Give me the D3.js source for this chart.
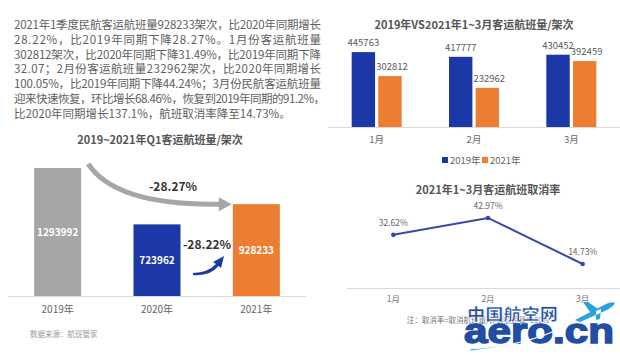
<!DOCTYPE html>
<html><head><meta charset="utf-8">
<script src="https://cdn.jsdelivr.net/npm/d3@7"></script>
<style>
html,body{margin:0;padding:0;background:#fff;}
svg{display:block;font-family:"Noto Sans CJK SC","Noto Sans",sans-serif;}
</style></head>
<body>
<svg id="c" width="620" height="355"></svg>
<script>
// ---------- data ----------
const paragraph = [
  "2021年1季度民航客运航班量928233架次，比2020年同期增长",
  "28.22%，比2019年同期下降28.27%。1月份客运航班量",
  "302812架次，比2020年同期下降31.49%，比2019年同期下降",
  "32.07；2月份客运航班量232962架次，比2020年同期增长",
  "100.05%，比2019年同期下降44.24%；3月份民航客运航班量",
  "迎来快速恢复，环比增长68.46%，恢复到2019年同期的91.2%，",
  "比2020年同期增长137.1%，航班取消率降至14.73%。"
];
const q1Years = ["2019年", "2020年", "2021年"];
const q1Values = [1293992, 723962, 928233];
const q1Change1 = "-28.27%";
const q1Change2 = "-28.22%";
const months = ["1月", "2月", "3月"];
const seriesNames = ["2019年", "2021年"];
const flights2019 = [445763, 417777, 430452];
const flights2021 = [302812, 232962, 392459];
const cancelRate = [32.62, 42.97, 14.73];

const svg = d3.select("#c");
const BLUE = "#1c37a6", ORANGE = "#ed7d31", GRAY = "#a6a6a6";

// ---------- paragraph ----------
const para = svg.append("g");
paragraph.forEach((t, i) => {
  const tx = para.append("text").attr("x", 14).attr("y", 29 + i * 14.8)
    .attr("font-size", 11.5).attr("fill", "#606060").text(t);
  if (i < 5) tx.attr("textLength", 307).attr("lengthAdjust", "spacing");
  if (i === 5) tx.attr("textLength", 311).attr("lengthAdjust", "spacing");
});

// ---------- left chart ----------
svg.append("text").attr("x", 160).attr("y", 144).attr("text-anchor", "middle")
  .attr("font-size", 11).attr("font-weight", "bold").attr("fill", "#555")
  .text("2019~2021年Q1客运航班量/架次");

const xL = d3.scalePoint().domain(q1Years).range([8, 306]).padding(0.5);
const yL = d3.scaleLinear().domain([0, 1400000]).range([296, 157.5]);
const q1Colors = [GRAY, BLUE, ORANGE];
const bwL = 47;
const gL = svg.append("g");
gL.selectAll("rect").data(q1Years).join("rect")
  .attr("x", d => xL(d) - bwL / 2).attr("width", bwL)
  .attr("y", (d, i) => yL(q1Values[i]))
  .attr("height", (d, i) => yL(0) - yL(q1Values[i]))
  .attr("fill", (d, i) => q1Colors[i]);
gL.selectAll("text.v").data(q1Years).join("text").attr("class", "v")
  .attr("x", d => xL(d)).attr("y", (d, i) => (yL(q1Values[i]) + yL(0)) / 2 + 4)
  .attr("text-anchor", "middle").attr("font-size", 10).attr("font-weight", "bold")
  .attr("fill", "#fff").text((d, i) => q1Values[i]);
svg.append("line").attr("x1", 8).attr("x2", 306).attr("y1", 296.5).attr("y2", 296.5)
  .attr("stroke", "#d9d9d9").attr("stroke-width", 1);
gL.selectAll("text.c").data(q1Years).join("text").attr("class", "c")
  .attr("x", d => xL(d)).attr("y", 313).attr("text-anchor", "middle")
  .attr("font-size", 10).attr("fill", "#666").text(d => d);

// gray curved arrow 2019 -> 2021
const x19 = xL(q1Years[0]) + bwL / 2, x21 = xL(q1Years[2]) - bwL / 2;
const yTop19 = yL(q1Values[0]), yTop21 = yL(q1Values[2]);
svg.append("path")
  .attr("d", `M${x19 + 7},${yTop19 - 4} Q${x19 + 35},${yTop21 + 2} ${x21 - 12},${yTop21}`)
  .attr("fill", "none").attr("stroke", GRAY).attr("stroke-width", 5);
svg.append("path")
  .attr("d", `M${x21 - 14},${yTop21 - 7} L${x21 - 1},${yTop21} L${x21 - 14},${yTop21 + 7} Z`)
  .attr("fill", GRAY);
svg.append("text").attr("x", 173).attr("y", 191).attr("text-anchor", "middle")
  .attr("font-size", 12).attr("font-weight", "bold").attr("fill", "#333").text(q1Change1);

// blue arrow 2020 -> 2021
svg.append("path")
  .attr("d", "M193,273 Q208,272.5 216,264 L213,262 L224,256 L221,268 L218.5,266 Q210,276.5 193,275 Z")
  .attr("fill", BLUE);
svg.append("text").attr("x", 207).attr("y", 249).attr("text-anchor", "middle")
  .attr("font-size", 12).attr("font-weight", "bold").attr("fill", "#333").text(q1Change2);

svg.append("text").attr("x", 30).attr("y", 337).attr("font-size", 7.5)
  .attr("fill", "#999").text("数据来源：航班管家");

// ---------- top right chart ----------
svg.append("text").attr("x", 474).attr("y", 29).attr("text-anchor", "middle")
  .attr("font-size", 11).attr("font-weight", "bold").attr("fill", "#555")
  .text("2019年VS2021年1~3月客运航班量/架次");

const xR = d3.scalePoint().domain(months).range([328, 620]).padding(0.5);
const xS = d3.scaleBand().domain(seriesNames).range([-25, 25]).paddingInner(0.12);
const yR = d3.scaleLinear().domain([0, 500000]).range([127, 43]);
const seriesVals = [flights2019, flights2021];
const seriesColors = [BLUE, ORANGE];
const gR = svg.append("g");
seriesNames.forEach((s, si) => {
  gR.selectAll(`rect.s${si}`).data(months).join("rect").attr("class", `s${si}`)
    .attr("x", d => xR(d) + xS(s)).attr("width", xS.bandwidth())
    .attr("y", (d, i) => yR(seriesVals[si][i]))
    .attr("height", (d, i) => yR(0) - yR(seriesVals[si][i]))
    .attr("fill", seriesColors[si]);
  gR.selectAll(`text.s${si}`).data(months).join("text").attr("class", `s${si}`)
    .attr("x", d => xR(d) + xS(s) + xS.bandwidth() / 2 + (si === 0 ? 0 : 2))
    .attr("y", (d, i) => yR(seriesVals[si][i]) - 6)
    .attr("text-anchor", "middle").attr("font-size", 9.5).attr("fill", "#595959")
    .text((d, i) => seriesVals[si][i]);
});
svg.append("line").attr("x1", 328).attr("x2", 620).attr("y1", 127.5).attr("y2", 127.5)
  .attr("stroke", "#d9d9d9");
gR.selectAll("text.m").data(months).join("text").attr("class", "m")
  .attr("x", d => xR(d)).attr("y", 143).attr("text-anchor", "middle")
  .attr("font-size", 9.5).attr("fill", "#666").text(d => d);
// legend
const leg = svg.append("g").attr("transform", "translate(442,160)");
seriesNames.forEach((s, i) => {
  const lx = i * 40;
  leg.append("rect").attr("x", lx).attr("y", -3).attr("width", 6).attr("height", 6)
    .attr("fill", seriesColors[i]);
  leg.append("text").attr("x", lx + 8).attr("y", 3.5).attr("font-size", 9.5)
    .attr("fill", "#666").text(s);
});

// ---------- bottom right chart ----------
svg.append("text").attr("x", 488).attr("y", 194).attr("text-anchor", "middle")
  .attr("font-size", 11).attr("font-weight", "bold").attr("fill", "#555")
  .text("2021年1~3月客运航班取消率");
const xB = d3.scalePoint().domain(months).range([346, 630]).padding(0.5);
const yB = d3.scaleLinear().domain([0, 50]).range([288, 206.5]);
svg.append("line").attr("x1", 347).attr("x2", 620).attr("y1", 288.5).attr("y2", 288.5)
  .attr("stroke", "#d9d9d9");
const line = d3.line().x((d, i) => xB(months[i])).y(d => yB(d));
svg.append("path").datum(cancelRate).attr("d", line).attr("fill", "none")
  .attr("stroke", "#3448ad").attr("stroke-width", 2);
svg.selectAll("circle.p").data(cancelRate).join("circle").attr("class", "p")
  .attr("cx", (d, i) => xB(months[i])).attr("cy", d => yB(d)).attr("r", 2.3)
  .attr("fill", "#3448ad");
svg.selectAll("text.pl").data(cancelRate).join("text").attr("class", "pl")
  .attr("x", (d, i) => xB(months[i])).attr("y", d => yB(d) - 9)
  .attr("text-anchor", "middle").attr("font-size", 8.5).attr("fill", "#666")
  .text(d => d.toFixed(2) + "%");
svg.selectAll("text.bm").data(months).join("text").attr("class", "bm")
  .attr("x", d => xB(d)).attr("y", 302).attr("text-anchor", "middle")
  .attr("font-size", 8.5).attr("fill", "#777").text(d => d);
svg.append("text").attr("x", 478).attr("y", 323).attr("text-anchor", "middle")
  .attr("font-size", 7.5).attr("fill", "#777").text("注：取消率=取消航班量/计划航班量*100%");

// ---------- watermark ----------
const wm = svg.append("g");
wm.append("text").attr("x", 467).attr("y", 320).attr("font-size", 16)
  .attr("font-weight", "900").attr("fill", "#1f4ea3").attr("stroke", "#fff").attr("stroke-width", 0.6)
  .attr("textLength", 91).attr("lengthAdjust", "spacingAndGlyphs").text("中国航空网");
wm.append("text").attr("x", 464).attr("y", 343).attr("font-size", 35)
  .attr("font-family", "Liberation Sans, Arial, sans-serif")
  .attr("font-weight", "bold").attr("fill", "#1f4ea3").attr("stroke", "#1f4ea3").attr("stroke-width", 1.5)
  .attr("textLength", 150).attr("lengthAdjust", "spacingAndGlyphs").text("aero.cn");
// swoosh + plane
wm.append("path")
  .attr("d", "M470,349 Q540,345 578,318 Q545,342 470,351 Z")
  .attr("fill", "#29a3dc").attr("stroke", "#fff").attr("stroke-width", 0.8);
wm.append("path")
  .attr("d", "M575,320 L604,305 Q612,301 615,303 Q614,306 607,310 L580,322 Z M590,312 L583,302 L588,302 L598,309 Z M596,311 L596,320 L600,319 L601,309 Z")
  .attr("fill", "#29a3dc");
</script>
</body></html>
